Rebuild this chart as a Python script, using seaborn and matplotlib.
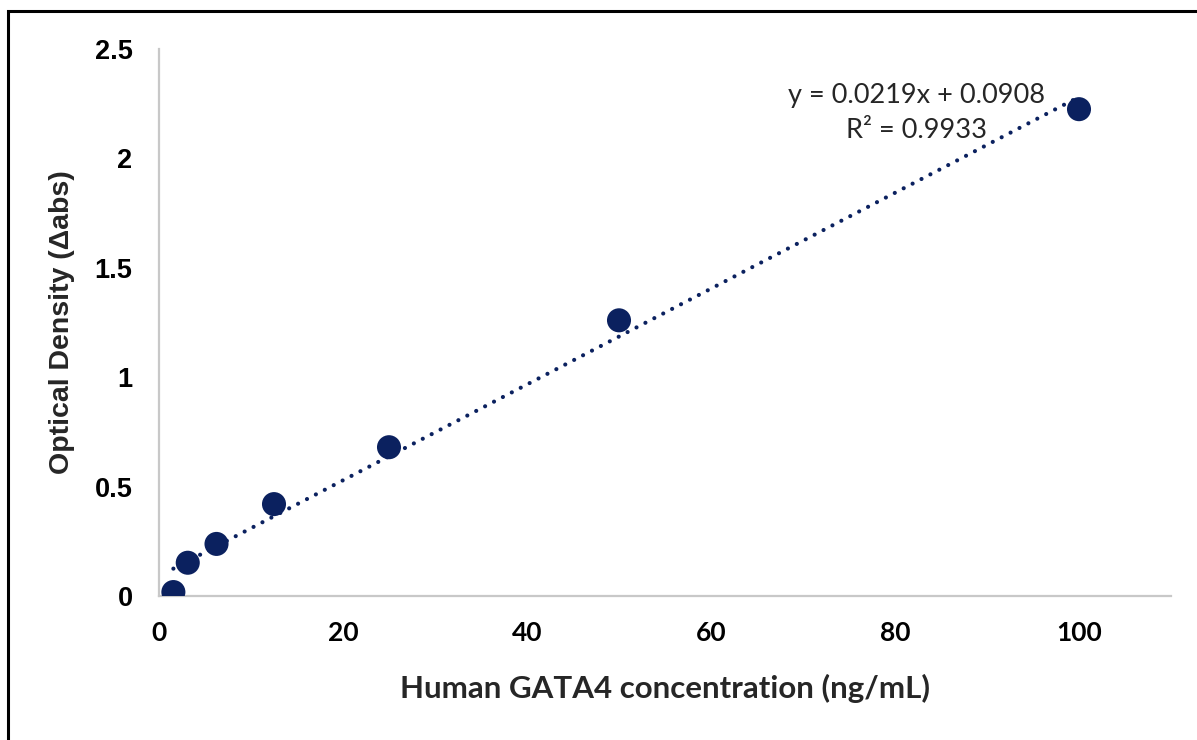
import numpy as np
import pandas as pd
import matplotlib
matplotlib.use("Agg")
import matplotlib.pyplot as plt
import seaborn as sns
from matplotlib.patches import Rectangle

# Data
concentration = [1.5625, 3.125, 6.25, 12.5, 25, 50, 100]
optical_density = [0.018, 0.152, 0.238, 0.42, 0.68, 1.26, 2.225]
slope = 0.0219
intercept = 0.0908
r_squared = 0.9933
x_ticks = [0, 20, 40, 60, 80, 100]
y_ticks = [0, 0.5, 1, 1.5, 2, 2.5]
y_tick_labels = ["0", "0.5", "1", "1.5", "2", "2.5"]

sns.set_theme(style="white")
plt.rcParams['font.family'] = ['Liberation Sans', 'DejaVu Sans']

navy = "#0b215f"

fig = plt.figure(figsize=(11.97, 7.40), dpi=100)
ax = fig.add_axes([159/1197, (740-596)/740, (1171-159)/1197, (596-49)/740])

df = pd.DataFrame({"conc": concentration, "od": optical_density})
trend = pd.DataFrame({"conc": [concentration[0], concentration[-1]]})
trend["od"] = slope * trend["conc"] + intercept

sns.lineplot(data=trend, x="conc", y="od", ax=ax, color=navy, linewidth=3.0,
             linestyle=(0, (0.01, 2.4)), dash_capstyle="round", zorder=2)
sns.scatterplot(data=df, x="conc", y="od", ax=ax, color=navy, s=300,
                edgecolor="none", zorder=3)

ax.set_xlim(0, 110)
ax.set_ylim(0, 2.5)
ax.set_xticks(x_ticks)
ax.set_xticklabels([str(v) for v in x_ticks])
ax.set_yticks(y_ticks)
ax.set_yticklabels(y_tick_labels)
ax.tick_params(axis="both", length=0, colors="black")
ax.tick_params(axis="x", pad=18)
ax.tick_params(axis="y", pad=19)
for lab in ax.get_xticklabels():
    lab.set_fontweight("bold")
    lab.set_fontsize(19)
    lab.set_family(["Lato", "DejaVu Sans"])
for lab in ax.get_yticklabels():
    lab.set_fontweight("bold")
    lab.set_fontsize(19.5)

for side in ["top", "right"]:
    ax.spines[side].set_visible(False)
for side in ["left", "bottom"]:
    ax.spines[side].set_color("#c8c8c8")
    ax.spines[side].set_linewidth(1.6)

ax.set_xlabel("")
ax.set_ylabel("")
fig.text(665/1197, 1 - 688/740, "Human GATA4 concentration (ng/mL)",
         ha="center", va="center", fontsize=22.5, fontweight="bold",
         family=["Lato", "DejaVu Sans"])
fig.text(62/1197, 1 - 322/740, "Optical Density (\u0394abs)", rotation=90,
         ha="center", va="center", fontsize=20.5, fontweight="bold")

fig.text(916/1197, 1 - 95/740, f"y = {slope}x + {intercept}",
         ha="center", va="center", fontsize=19.5, family=["Lato", "DejaVu Sans"])
fig.text(916/1197, 1 - 131/740, f"R\u00b2 = {r_squared}",
         ha="center", va="center", fontsize=19.5, family=["Lato", "DejaVu Sans"])

# outer frame (only top and left edges visible in the crop)
fig.patches.append(Rectangle((8/1197, -0.1), 1.2, 1 - 10.5/740 + 0.1,
                             transform=fig.transFigure, fill=False,
                             edgecolor="black", linewidth=2.2))

fig.savefig("out.png", dpi=100)
